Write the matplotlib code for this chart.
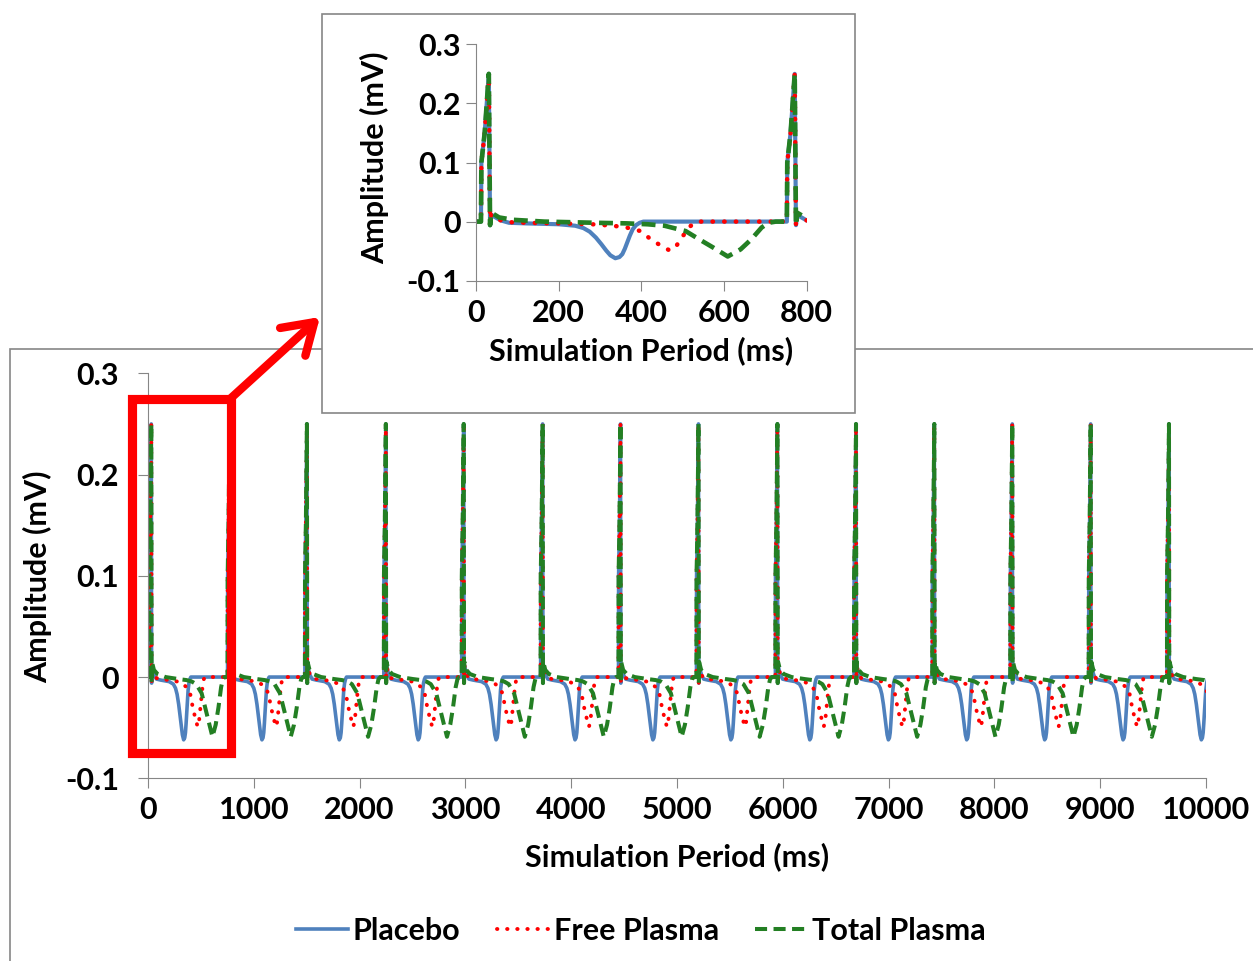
import matplotlib
matplotlib.use("Agg")
import matplotlib.pyplot as plt
import numpy as np
from matplotlib.patches import Rectangle, FancyArrowPatch

# --- dados ---
# instantes dos picos (ms) lidos no gráfico principal
picos_ms = [31, 771, 1502, 2248, 2984, 3730, 4466, 5203, 5949, 6692, 7432, 8169, 8910, 9650]
pico_offset = 31  # posição do pico dentro de um batimento

# um batimento (ms desde o início do batimento, mV), lido no gráfico ampliado
placebo_t = [0, 12, 13, 21, 31, 34, 37, 45, 60, 80, 120, 200, 240, 260, 275, 290,
             303, 315, 325, 337, 347, 354, 360, 366, 372, 379, 387, 396, 405]
placebo_v = [0, 0, 0.10, 0.15, 0.25, -0.006, 0.012, 0.008, 0.002, -0.002, -0.003,
             -0.0045, -0.007, -0.011, -0.017, -0.027, -0.038, -0.049, -0.057, -0.062,
             -0.060, -0.055, -0.046, -0.035, -0.024, -0.013, -0.006, -0.002, 0]

livre_t = [0, 12, 13, 21, 31, 34, 37, 45, 60, 80, 120, 200, 281, 331, 364, 398, 423,
           448, 469, 482, 498, 515, 528, 540]
livre_v = [0, 0, 0.10, 0.15, 0.25, -0.006, 0.012, 0.008, 0.002, -0.001, -0.002,
           -0.003, -0.0045, -0.007, -0.010, -0.016, -0.030, -0.041, -0.049, -0.044,
           -0.027, -0.010, -0.002, 0]

total_t = [0, 12, 13, 21, 31, 34, 37, 42, 56, 90, 165, 289, 364, 415, 456, 507, 540,
           574, 609, 640, 666, 691, 708, 725]
total_v = [0, 0, 0.10, 0.15, 0.25, -0.006, 0.015, 0.013, 0.007, 0.003, 0, -0.002,
           -0.003, -0.0045, -0.007, -0.016, -0.030, -0.044, -0.059, -0.047, -0.030,
           -0.010, -0.002, 0]

nomes_series = ["Placebo", "Free Plasma", "Total Plasma"]
x_ticks = [0, 1000, 2000, 3000, 4000, 5000, 6000, 7000, 8000, 9000, 10000]
x_ticks_zoom = [0, 200, 400, 600, 800]
y_ticks = [-0.1, 0, 0.1, 0.2, 0.3]
y_rotulos = ["-0.1", "0", "0.1", "0.2", "0.3"]

W, H = 1253, 961
FS = 22


def fx(x):
    return x / W


def fy(y):
    return 1 - y / H


def montar_serie(tt, vv):
    # repete o batimento lido em cada pico
    xs, ys = [], []
    for p in picos_ms:
        inicio = p - pico_offset
        xs.extend(inicio + np.array(tt))
        ys.extend(vv)
    return np.array(xs), np.array(ys)


plt.rcParams['font.family'] = ['Lato', 'DejaVu Sans']
plt.rcParams['font.weight'] = 'bold'

fig = plt.figure(figsize=(W / 100, H / 100), dpi=100, facecolor='white')

cinza = '#868686'
estilos = [
    dict(color='#4F81BD', lw=2.6, linestyle='-'),
    dict(color='#FF0000', lw=2.8, linestyle=(0, (0.1, 2.5)), dash_capstyle='round'),
    dict(color='#237F23', lw=2.9, linestyle=(0, (3, 1.6))),
]
dados = [montar_serie(placebo_t, placebo_v),
         montar_serie(livre_t, livre_v),
         montar_serie(total_t, total_v)]


def estilizar(ax, xt, xmax):
    ax.set_facecolor('none')
    for lado in ['top', 'right']:
        ax.spines[lado].set_visible(False)
    for lado in ['left', 'bottom']:
        ax.spines[lado].set_color(cinza)
        ax.spines[lado].set_linewidth(0.8)
    ax.set_xlim(0, xmax)
    ax.set_ylim(-0.1, 0.3)
    ax.set_xticks(xt)
    ax.set_xticklabels([str(v) for v in xt])
    ax.set_yticks(y_ticks)
    ax.set_yticklabels(y_rotulos)
    ax.tick_params(axis='both', direction='out', length=7, width=0.8, color=cinza,
                   labelsize=FS, labelcolor='black')
    ax.tick_params(axis='y', pad=4)
    ax.tick_params(axis='x', pad=6)


# moldura externa do gráfico principal (cortada nas bordas)
fig.add_artist(Rectangle((fx(10), fy(1000)), fx(1300), fy(349) - fy(1000),
                         transform=fig.transFigure, fill=False, edgecolor=cinza,
                         lw=1.2, zorder=-2))

# --- gráfico principal ---
ax = fig.add_axes([fx(148), fy(778.3), (1206 - 148) / W, (778.3 - 373.3) / H])
ax.set_zorder(0)
handles = []
for (xs, ys), est, nome in zip(dados, estilos, nomes_series):
    h, = ax.plot(xs, ys, label=nome, **est)
    handles.append(h)
estilizar(ax, x_ticks, 10000)
ax.tick_params(axis='y', pad=14)
fig.text(fx(677), fy(857), 'Simulation Period (ms)', ha='center', va='center',
         fontsize=FS, fontweight='bold')
fig.text(fx(38), fy(577), 'Amplitude (mV)', ha='center', va='center',
         rotation=90, fontsize=FS, fontweight='bold')

# --- caixa do gráfico ampliado ---
fig.add_artist(Rectangle((fx(322), fy(413)), (855 - 322) / W, (413 - 14) / H,
                         transform=fig.transFigure, facecolor='white',
                         edgecolor=cinza, lw=1.2, zorder=0.5))

ax2 = fig.add_axes([fx(476), fy(280.7), (806.7 - 476) / W, (280.7 - 44.3) / H])
ax2.set_zorder(1)
for (xs, ys), est in zip(dados, estilos):
    est2 = dict(est)
    est2['lw'] = est['lw'] * 1.15
    ax2.plot(xs, ys, **est2)
estilizar(ax2, x_ticks_zoom, 800)
fig.text(fx(641), fy(351), 'Simulation Period (ms)', ha='center', va='center',
         fontsize=FS, fontweight='bold', zorder=2)
fig.text(fx(375), fy(158), 'Amplitude (mV)', ha='center', va='center',
         rotation=90, fontsize=FS, fontweight='bold', zorder=2)

# --- destaque em vermelho e seta ---
fig.add_artist(Rectangle((fx(131.5), fy(753)), (230.5 - 131.5) / W, (753 - 399) / H,
                         transform=fig.transFigure, fill=False, edgecolor='#FF0000',
                         lw=6.6, joinstyle='miter', zorder=5))
fig.add_artist(FancyArrowPatch((fx(230), fy(399)), (fx(320), fy(317)),
                               transform=fig.transFigure,
                               arrowstyle='->,head_length=0.7,head_width=0.45',
                               mutation_scale=30, color='#FF0000', lw=6,
                               capstyle='round', joinstyle='round', zorder=5,
                               shrinkA=0, shrinkB=0))

# --- legenda ---
fig.legend(handles=handles, loc='center', bbox_to_anchor=(fx(641), fy(931)),
           ncol=3, frameon=False, fontsize=FS, handlelength=1.7,
           handletextpad=0.15, columnspacing=1.2)

fig.savefig('out.png', dpi=100, facecolor='white')
